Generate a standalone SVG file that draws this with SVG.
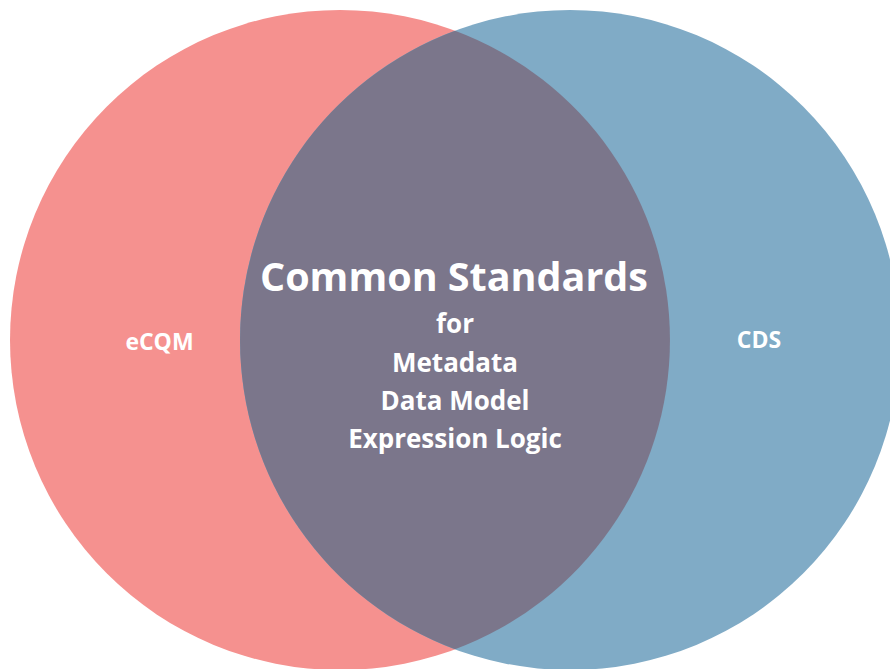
<svg xmlns="http://www.w3.org/2000/svg" width="890" height="669" viewBox="0 0 890 669">
<style>
text{font-family:"Open Sans","Liberation Sans",sans-serif;font-weight:bold;fill:#fff;text-anchor:middle}
.t{font-size:39.5px}
.s{font-size:26px}
.l{font-size:23px}
</style>
<rect width="890" height="669" fill="#fff"/>
<g id="ecqm">
<circle cx="340" cy="340" r="330" fill="#F5918F"/>
<text class="l" x="159.5" y="350">eCQM</text>
</g>
<g id="cds">
<circle cx="570" cy="340" r="330" fill="#80ABC6"/>
<text class="l" x="759" y="348">CDS</text>
</g>
<g id="common">
<path d="M455 30.7 A330 330 0 0 1 455 649.3 A330 330 0 0 1 455 30.7 Z" fill="#7B768B"/>
<text class="t" x="454" y="291">Common Standards</text>
<text class="s" x="455" y="333">for</text>
<text class="s" x="455" y="372">Metadata</text>
<text class="s" x="455" y="410">Data Model</text>
<text class="s" x="455" y="448">Expression Logic</text>
</g>
<g id="connectors"/>
</svg>
